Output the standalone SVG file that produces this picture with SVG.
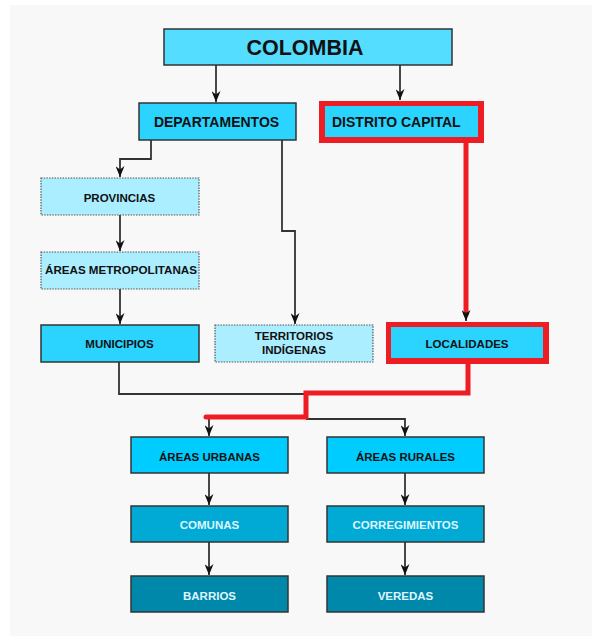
<svg xmlns="http://www.w3.org/2000/svg" width="592" height="636" viewBox="0 0 592 636">
<defs>
<marker id="ah" viewBox="0 0 11 9" refX="11" refY="4.5" markerWidth="11" markerHeight="9" markerUnits="userSpaceOnUse" orient="auto">
<path d="M0,0 L11,4.5 L0,9 L3.5,4.5 Z" fill="#111"/>
</marker>
</defs>
<style>
.box{stroke:#333;stroke-width:1.5}
.dot{stroke:#555;stroke-width:1.2;stroke-dasharray:1.5 1.2}
.t{font-family:"Liberation Sans",Arial,sans-serif;font-weight:bold;text-anchor:middle;fill:#111}
.s{text-anchor:start}
.w{fill:#dff6ff}
.ln{fill:none;stroke:#333;stroke-width:1.8}
.red{fill:none;stroke:#ee1d23;stroke-width:5;stroke-linecap:round}
</style>
<rect x="10" y="5" width="582" height="631" fill="#f8f8f8"/>

<g id="connectors">
<path class="ln" d="M216,65 V102" marker-end="url(#ah)"/>
<path class="ln" d="M400,65 V100" marker-end="url(#ah)"/>
<path class="ln" d="M151,140 V159 H120 V177" marker-end="url(#ah)"/>
<path class="ln" d="M282,140 V231 H295 V324" marker-end="url(#ah)"/>
<path class="ln" d="M120,215 V251" marker-end="url(#ah)"/>
<path class="ln" d="M120,289 V324" marker-end="url(#ah)"/>
<path class="ln" d="M119,362 V394 H306"/>
<path class="ln" d="M306,419 H405 V436" marker-end="url(#ah)"/>
<path class="ln" d="M209,417 V436" marker-end="url(#ah)"/>
<path class="ln" d="M209,473 V505" marker-end="url(#ah)"/>
<path class="ln" d="M209,542 V575" marker-end="url(#ah)"/>
<path class="ln" d="M405,473 V505" marker-end="url(#ah)"/>
<path class="ln" d="M405,542 V575" marker-end="url(#ah)"/>
<path class="red" d="M466,143 V314" stroke-linecap="butt"/>
<path class="ln" d="M466,312 V321" marker-end="url(#ah)"/>
<path class="red" d="M468,364 V393 H306 V417 H206"/>
</g>

<g id="colombia">
<rect class="box" x="164" y="29" width="288" height="36" fill="#55ddff"/>
<text class="t" x="305" y="55" font-size="21.5">COLOMBIA</text>
</g>

<g id="departamentos">
<rect class="box" x="139" y="103" width="157" height="37" fill="#2ad4ff"/>
<text class="t" x="216.5" y="127" font-size="14">DEPARTAMENTOS</text>
</g>

<g id="distrito-capital">
<rect x="319" y="101" width="165" height="42" fill="#ee1d23"/>
<rect x="325" y="106" width="153" height="31" fill="#2ad4ff"/>
<text class="t s" x="332" y="127" font-size="14">DISTRITO CAPITAL</text>
</g>

<g id="provincias">
<rect class="dot" x="41" y="178" width="158" height="37" fill="#aaeeff"/>
<text class="t" x="119.5" y="202" font-size="11.5">PROVINCIAS</text>
</g>

<g id="areas-metropolitanas">
<rect class="dot" x="41" y="252" width="158" height="37" fill="#aaeeff"/>
<text class="t" x="121" y="274" font-size="11" textLength="152" lengthAdjust="spacingAndGlyphs">ÁREAS METROPOLITANAS</text>
</g>

<g id="municipios">
<rect class="box" x="41" y="325" width="158" height="37" fill="#2ad4ff"/>
<text class="t" x="119.5" y="348" font-size="11.5">MUNICIPIOS</text>
</g>

<g id="territorios-indigenas">
<rect class="dot" x="215" y="325" width="158" height="37" fill="#aaeeff"/>
<text class="t" x="294" y="340" font-size="11.5">TERRITORIOS</text>
<text class="t" x="294" y="354" font-size="11.5">INDÍGENAS</text>
</g>

<g id="localidades">
<rect x="386" y="322" width="163" height="42" fill="#ee1d23"/>
<rect x="391" y="327" width="152" height="31" fill="#2ad4ff"/>
<text class="t" x="467" y="348" font-size="11.5">LOCALIDADES</text>
</g>

<g id="areas-urbanas">
<rect class="box" x="131" y="437" width="157" height="36" fill="#00ccff"/>
<text class="t" x="209.5" y="461" font-size="11.5">ÁREAS URBANAS</text>
</g>

<g id="areas-rurales">
<rect class="box" x="327" y="437" width="157" height="36" fill="#00ccff"/>
<text class="t" x="405.5" y="461" font-size="11.5">ÁREAS RURALES</text>
</g>

<g id="comunas">
<rect class="box" x="131" y="506" width="157" height="36" fill="#00aad4"/>
<text class="t w" x="209.5" y="529" font-size="11.5">COMUNAS</text>
</g>

<g id="corregimientos">
<rect class="box" x="327" y="506" width="157" height="36" fill="#00aad4"/>
<text class="t w" x="405.5" y="529" font-size="11.5">CORREGIMIENTOS</text>
</g>

<g id="barrios">
<rect class="box" x="131" y="576" width="157" height="36" fill="#0088aa"/>
<text class="t w" x="209.5" y="600" font-size="11.5">BARRIOS</text>
</g>

<g id="veredas">
<rect class="box" x="327" y="576" width="157" height="36" fill="#0088aa"/>
<text class="t w" x="405.5" y="600" font-size="11.5">VEREDAS</text>
</g>
</svg>
